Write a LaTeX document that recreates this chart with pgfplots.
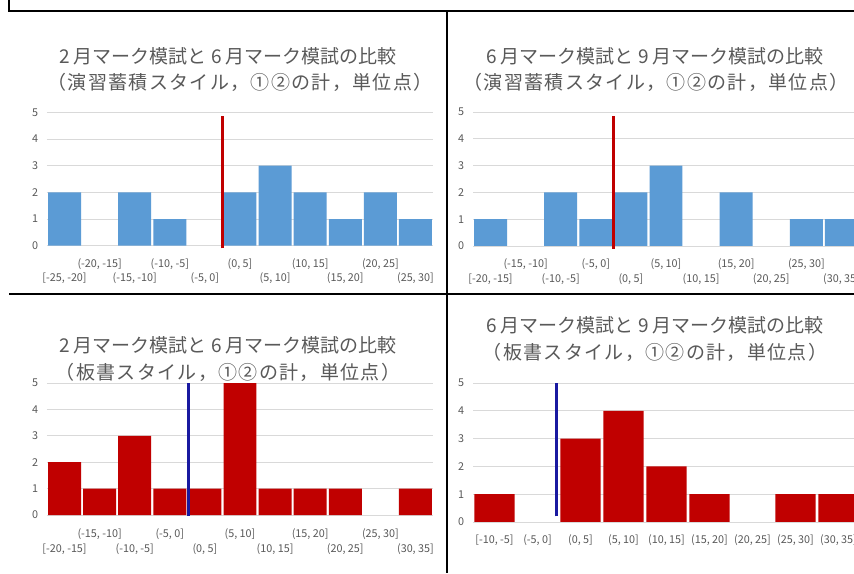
\documentclass[border=0pt]{standalone}
\usepackage{fontspec}
\setmainfont{Noto Sans CJK JP}
\usepackage{pgfplots}
\pgfplotsset{compat=1.18}

\definecolor{xlblue}{HTML}{5B9BD5}
\definecolor{xlred}{HTML}{C00000}
\definecolor{lineblue}{RGB}{25,25,160}
\definecolor{linered}{HTML}{C00000}
\definecolor{txtgrey}{HTML}{595959}
\definecolor{gridgrey}{HTML}{D9D9D9}

\newcommand\ticksize{\fontsize{10.8}{12}\selectfont}
\newcommand\titlesize{\fontsize{19}{22}\selectfont}
\newcommand\subtitle{\addfontfeature{LetterSpace=7}}

\pgfplotsset{
  hist/.style={
    scale only axis, anchor=south west,
    ymin=0, ymax=5, ytick={0,...,5},
    ymajorgrids, grid style={gridgrey, line width=0.8pt},
    axis line style={draw=none}, tick style={draw=none},
    clip=false,
    ybar, bar width=0.94, bar shift=0,
    unbounded coords=discard,
    /pgf/number format/assume math mode=true,
    tick label style={font=\ticksize, text=txtgrey},
    yticklabel style={anchor=center, xshift=-12pt},
  },
  bars/.style={draw=none, y filter/.expression={y==0 ? nan : y}},
  tworows/.style 2 args={
    xtick={0,2,...,10},
    xticklabel style={anchor=center, yshift=-#1},
    extra x ticks={1,3,...,9},
    extra x tick style={grid=none, xticklabel style={yshift=#2}},
  },
}

\begin{document}
\begin{tikzpicture}
\useasboundingbox (0pt,0pt) rectangle (854pt,573pt);
\clip (0pt,0pt) rectangle (854pt,573pt);
\fill[white] (0pt,0pt) rectangle (854pt,573pt);

% ---- top left: 2月 vs 6月, 演習蓄積
\begin{axis}[hist, at={(47pt,327.3pt)}, width=386pt, height=133.4pt,
  xmin=-0.5, xmax=10.5, tworows={28.5pt}{14.5pt},
  xticklabels={{[-25, -20]},{(-15, -10]},{(-5, 0]},{(5, 10]},{(15, 20]},{(25, 30]}},
  extra x tick labels={{(-20, -15]},{(-10, -5]},{(0, 5]},{(10, 15]},{(20, 25]}}]
\addplot[bars, fill=xlblue] coordinates {
(0,2) (1,0) (2,2) (3,1) (4,0) (5,2) (6,3) (7,2) (8,1) (9,2) (10,1)};
\addplot[sharp plot, linered, line width=3pt, forget plot] coordinates {(4.5,-0.1) (4.5,4.85)};
\end{axis}

% ---- top right: 6月 vs 9月, 演習蓄積
\begin{axis}[hist, at={(473pt,327pt)}, width=386pt, height=134pt,
  xmin=-0.5, xmax=10.5, tworows={28.5pt}{14.5pt},
  xticklabels={{[-20, -15]},{(-10, -5]},{(0, 5]},{(10, 15]},{(20, 25]},{(30, 35]}},
  extra x tick labels={{(-15, -10]},{(-5, 0]},{(5, 10]},{(15, 20]},{(25, 30]}}]
\addplot[bars, fill=xlblue] coordinates {
(0,1) (1,0) (2,2) (3,1) (4,2) (5,3) (6,0) (7,2) (8,0) (9,1) (10,1)};
\addplot[sharp plot, linered, line width=3pt, forget plot] coordinates {(3.5,-0.1) (3.5,4.85)};
\end{axis}

% ---- bottom left: 2月 vs 6月, 板書
\begin{axis}[hist, at={(47pt,58pt)}, width=386pt, height=132pt,
  xmin=-0.5, xmax=10.5, tworows={29.5pt}{14.5pt},
  xticklabels={{[-20, -15]},{(-10, -5]},{(0, 5]},{(10, 15]},{(20, 25]},{(30, 35]}},
  extra x tick labels={{(-15, -10]},{(-5, 0]},{(5, 10]},{(15, 20]},{(25, 30]}}]
\addplot[bars, fill=xlred] coordinates {
(0,2) (1,1) (2,3) (3,1) (4,1) (5,5) (6,1) (7,1) (8,1) (9,0) (10,1)};
\addplot[sharp plot, lineblue, line width=3pt, forget plot] coordinates {(3.52,-0.02) (3.52,5)};
\end{axis}

% ---- bottom right: 6月 vs 9月, 板書
\begin{axis}[hist, at={(473pt,51pt)}, width=387pt, height=139pt,
  xmin=-0.5, xmax=8.5, xtick={0,...,8},
  xticklabel style={anchor=center, yshift=-13.8pt},
  xticklabels={{[-10, -5]},{(-5, 0]},{(0, 5]},{(5, 10]},{(10, 15]},{(15, 20]},{(20, 25]},{(25, 30]},{(30, 35]}}]
\addplot[bars, fill=xlred] coordinates {
(0,1) (1,0) (2,3) (3,4) (4,2) (5,1) (6,0) (7,1) (8,1)};
\addplot[sharp plot, lineblue, line width=3pt, forget plot] coordinates {(1.45,0.2) (1.45,5)};
\end{axis}

% ---- titles and table frame, in picture pixels
\begin{scope}[x=1pt, y=1pt]
\begin{scope}[every node/.style={text=txtgrey, font=\titlesize, inner sep=0pt}]
\node at (228,517) {2 月マーク模試と 6 月マーク模試の比較};
\node at (240,491) {\subtitle（演習蓄積スタイル，①②の計，単位点）};
\node at (655,517) {6 月マーク模試と 9 月マーク模試の比較};
\node at (656,491) {\subtitle（演習蓄積スタイル，①②の計，単位点）};
\node at (228,228) {2 月マーク模試と 6 月マーク模試の比較};
\node at (228,201) {\subtitle（板書スタイル，①②の計，単位点）};
\node at (655,248) {6 月マーク模試と 9 月マーク模試の比較};
\node at (655,221) {\subtitle（板書スタイル，①②の計，単位点）};
\end{scope}
\draw[line width=1.6pt] (9,573) -- (9,562) -- (854,562);
\draw[line width=1.4pt] (447,562) -- (447,0);
\draw[line width=1.4pt] (9,279) -- (854,279);
\end{scope}
\end{tikzpicture}
\end{document}
